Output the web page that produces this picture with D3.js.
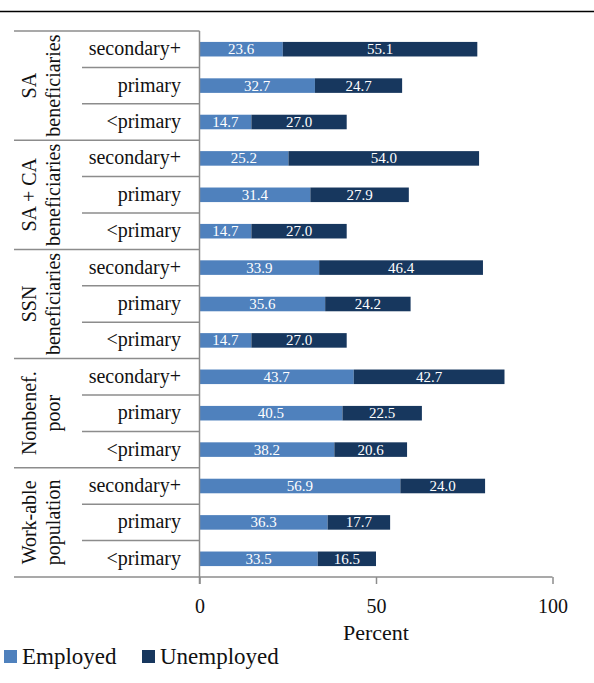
<!DOCTYPE html>
<html>
<head>
<meta charset="utf-8">
<script src="https://cdn.jsdelivr.net/npm/d3@7"></script>
<style>
  body { margin: 0; background: #fff; }
</style>
</head>
<body>
<div id="chart"></div>
<script>
// groups top to bottom, each with three education levels
const groups = [
  ['SA', 'beneficiaries'],
  ['SA + CA', 'beneficiaries'],
  ['SSN', 'beneficiaries'],
  ['Nonbenef.', 'poor'],
  ['Work-able', 'population']
];
const levels = ['secondary+', 'primary', '<primary'];
const employed = [
  23.6, 32.7, 14.7,
  25.2, 31.4, 14.7,
  33.9, 35.6, 14.7,
  43.7, 40.5, 38.2,
  56.9, 36.3, 33.5
];
const unemployed = [
  55.1, 24.7, 27.0,
  54.0, 27.9, 27.0,
  46.4, 24.2, 27.0,
  42.7, 22.5, 20.6,
  24.0, 17.7, 16.5
];
const xTicks = [0, 50, 100];
const seriesNames = ['Employed', 'Unemployed'];
const colors = ['#4f81bd', '#17375e'];

const FONT = 'Liberation Serif';
const W = 594, H = 683;
const margin = { left: 199.5, right: 41.5, top: 31, bottom: 106 };

const svg = d3.select('#chart').append('svg')
  .attr('width', W).attr('height', H)
  .attr('font-family', FONT);

// top rule
svg.append('line')
  .attr('x1', 0).attr('x2', W).attr('y1', 11.5).attr('y2', 11.5)
  .attr('stroke', '#000').attr('stroke-width', 1.3);

const rows = d3.range(employed.length).map(i => ({
  key: i,
  level: levels[i % 3],
  emp: employed[i],
  unemp: unemployed[i]
}));

const x = d3.scaleLinear().domain([0, 100]).range([margin.left, W - margin.right]);
const y = d3.scaleBand().domain(rows.map(d => d.key))
  .range([margin.top, H - margin.bottom]).paddingInner(0.6).paddingOuter(0.3);
const step = y.step();
const rowTop = k => y(k) - (step - y.bandwidth()) / 2;

// row separators and group separators
const grid = svg.append('g').attr('stroke', '#8c8c8c').attr('stroke-width', 1.5);
rows.forEach((d, i) => {
  const isGroup = i % 3 === 0;
  grid.append('line')
    .attr('x1', isGroup ? 14 : 82).attr('x2', margin.left)
    .attr('y1', rowTop(d.key)).attr('y2', rowTop(d.key));
});
grid.append('line')
  .attr('x1', 14).attr('x2', margin.left)
  .attr('y1', H - margin.bottom).attr('y2', H - margin.bottom);

// bars
const stackData = rows.map(d => [
  { s: 0, x0: 0, x1: d.emp, v: d.emp, key: d.key },
  { s: 1, x0: d.emp, x1: d.emp + d.unemp, v: d.unemp, key: d.key }
]).flat();

svg.append('g').selectAll('rect').data(stackData).join('rect')
  .attr('x', d => x(d.x0))
  .attr('y', d => y(d.key))
  .attr('width', d => x(d.x1) - x(d.x0))
  .attr('height', y.bandwidth())
  .attr('fill', d => colors[d.s]);

svg.append('g').selectAll('text').data(stackData).join('text')
  .attr('x', d => (x(d.x0) + x(d.x1)) / 2)
  .attr('y', d => y(d.key) + y.bandwidth() / 2 + 5)
  .attr('text-anchor', 'middle')
  .attr('fill', '#fff')
  .attr('font-size', 15)
  .text(d => d.v.toFixed(1));

// category labels
svg.append('g').selectAll('text').data(rows).join('text')
  .attr('x', 181)
  .attr('y', d => y(d.key) + y.bandwidth() / 2 + 6)
  .attr('text-anchor', 'end')
  .attr('font-size', 20)
  .attr('fill', '#111')
  .text(d => d.level);

// group labels, rotated
groups.forEach((g, gi) => {
  const cy = rowTop(gi * 3) + step * 1.5;
  const t = svg.append('text')
    .attr('transform', `translate(36,${cy}) rotate(-90)`)
    .attr('text-anchor', 'middle')
    .attr('font-size', 20)
    .attr('fill', '#111');
  t.append('tspan').attr('x', 0).attr('dy', 0).text(g[0]);
  t.append('tspan').attr('x', 0).attr('dy', 24).text(g[1]);
});

// axes
const axisY = H - margin.bottom;
const xAxis = svg.append('g')
  .attr('transform', `translate(0,${axisY})`)
  .call(d3.axisBottom(x).tickValues(xTicks).tickSize(7).tickPadding(15));
xAxis.attr('font-family', FONT);
xAxis.select('.domain').attr('stroke', '#8c8c8c').attr('stroke-width', 1.5)
  .attr('d', `M${x(0)},0H${x(100)}`);
xAxis.selectAll('.tick line').attr('stroke', '#8c8c8c').attr('stroke-width', 1.5);
xAxis.selectAll('.tick text')
  .attr('font-size', 20).attr('fill', '#111');

svg.append('line')
  .attr('x1', margin.left).attr('x2', margin.left)
  .attr('y1', margin.top).attr('y2', axisY + 7)
  .attr('stroke', '#8c8c8c').attr('stroke-width', 1.5);

svg.append('text')
  .attr('x', x(50)).attr('y', 640)
  .attr('text-anchor', 'middle')
  .attr('font-size', 22).attr('fill', '#111')
  .text('Percent');

// legend
const legendX = [4, 142];
seriesNames.forEach((name, i) => {
  svg.append('rect')
    .attr('x', legendX[i]).attr('y', 650)
    .attr('width', 13).attr('height', 13)
    .attr('fill', colors[i]);
  svg.append('text')
    .attr('x', legendX[i] + 18).attr('y', 664)
    .attr('font-size', 23).attr('fill', '#111')
    .text(name);
});
</script>
</body>
</html>
